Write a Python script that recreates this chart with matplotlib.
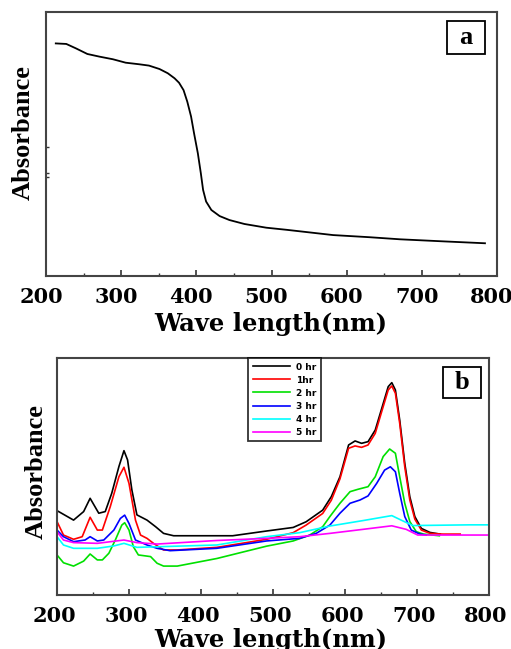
import matplotlib
matplotlib.use("Agg")
import matplotlib.pyplot as plt
from matplotlib.patches import Rectangle
from matplotlib.ticker import MultipleLocator
from matplotlib.transforms import ScaledTranslation

# ---- panel a data ----
wl_a = [213, 227, 240, 255, 271, 289, 306, 324, 337, 351, 362, 371, 377, 383, 388, 393, 397,
        402, 406, 409, 413, 420, 431, 444, 464, 493, 520, 582, 630, 671, 730, 784]
abs_a = [0.881, 0.879, 0.862, 0.841, 0.831, 0.821, 0.808, 0.802, 0.797, 0.784, 0.768, 0.749,
         0.732, 0.704, 0.66, 0.604, 0.54, 0.465, 0.389, 0.326, 0.282, 0.25, 0.227, 0.212,
         0.197, 0.183, 0.175, 0.155, 0.147, 0.139, 0.131, 0.124]

# ---- panel b data ----
wl_0 = [200, 223, 237, 246, 258, 267, 276, 286, 293, 298, 304, 311, 325, 337, 348, 362, 422,
        444, 491, 528, 546, 569, 581, 593, 605, 614, 623, 632, 642, 651, 660, 665, 670, 676,
        683, 690, 697, 706, 718, 732]
abs_0 = [0.356, 0.316, 0.352, 0.408, 0.345, 0.352, 0.429, 0.542, 0.609, 0.57, 0.443, 0.338,
         0.316, 0.288, 0.26, 0.25, 0.25, 0.25, 0.27, 0.285, 0.309, 0.358, 0.415, 0.499, 0.633,
         0.65, 0.64, 0.647, 0.696, 0.787, 0.879, 0.896, 0.865, 0.738, 0.556, 0.415, 0.331,
         0.281, 0.264, 0.257]

wl_1 = [200, 209, 223, 235, 246, 256, 263, 274, 286, 293, 300, 309, 316, 325, 334, 348, 367,
        422, 491, 528, 546, 569, 581, 593, 605, 614, 623, 632, 642, 651, 660, 665, 670, 676,
        683, 690, 697, 706, 718, 736, 760]
abs_1 = [0.31, 0.253, 0.235, 0.246, 0.328, 0.274, 0.274, 0.373, 0.499, 0.539, 0.471, 0.316,
         0.253, 0.239, 0.218, 0.19, 0.19, 0.201, 0.235, 0.263, 0.295, 0.344, 0.40, 0.49,
         0.619, 0.629, 0.623, 0.633, 0.682, 0.774, 0.865, 0.882, 0.851, 0.724, 0.541, 0.401,
         0.32, 0.274, 0.26, 0.257, 0.257]

wl_2 = [200, 209, 223, 237, 246, 256, 263, 272, 281, 290, 294, 300, 306, 313, 330, 339, 348,
        367, 422, 491, 528, 551, 569, 579, 593, 607, 618, 632, 642, 653, 662, 670, 676, 683,
        690, 699, 709, 731]
abs_2 = [0.169, 0.136, 0.122, 0.143, 0.173, 0.148, 0.148, 0.176, 0.232, 0.295, 0.305, 0.274,
         0.204, 0.169, 0.162, 0.134, 0.122, 0.122, 0.154, 0.206, 0.228, 0.253, 0.288, 0.331,
         0.387, 0.436, 0.446, 0.457, 0.499, 0.584, 0.616, 0.598, 0.499, 0.387, 0.31, 0.267,
         0.257, 0.25]

wl_3 = [200, 209, 223, 239, 246, 256, 265, 279, 288, 294, 300, 309, 325, 339, 357, 422, 491,
        537, 560, 579, 593, 607, 621, 632, 644, 655, 663, 670, 676, 683, 692, 704, 713]
abs_3 = [0.274, 0.246, 0.225, 0.232, 0.246, 0.228, 0.232, 0.274, 0.323, 0.337, 0.302, 0.232,
         0.211, 0.197, 0.187, 0.197, 0.228, 0.239, 0.26, 0.295, 0.345, 0.387, 0.401, 0.418,
         0.471, 0.527, 0.541, 0.52, 0.429, 0.331, 0.274, 0.257, 0.253]

wl_4 = [200, 209, 223, 256, 279, 293, 311, 422, 491, 537, 579, 625, 665, 678, 694, 773, 800]
abs_4 = [0.246, 0.211, 0.197, 0.197, 0.207, 0.218, 0.201, 0.211, 0.246, 0.263, 0.291, 0.314,
         0.335, 0.316, 0.293, 0.296, 0.296]

wl_5 = [200, 209, 223, 256, 293, 311, 339, 422, 491, 537, 579, 625, 665, 685, 701, 773, 800]
abs_5 = [0.267, 0.232, 0.221, 0.218, 0.232, 0.221, 0.215, 0.23, 0.239, 0.246, 0.26, 0.277,
         0.292, 0.277, 0.253, 0.253, 0.253]

labels_b = ["0 hr", "1hr", "2 hr", "3 hr", "4 hr", "5 hr"]
colors_b = ["black", "red", "#00e000", "blue", "cyan", "magenta"]
xticks = [200, 300, 400, 500, 600, 700, 800]

TICKFONT = dict(family="DejaVu Serif", weight="bold", size=15)
LABFONT = dict(family="DejaVu Serif", weight="bold", size=17.5)
YFONT = dict(family="Liberation Serif", weight="bold", size=19)

fig = plt.figure(figsize=(5.11, 6.49), dpi=100)
axa = fig.add_axes([46/511, 1-276/649, 451/511, 264/649])
axb = fig.add_axes([57/511, 1-595/649, 432/511, 237/649])

def style(ax, shift_px):
    ax.set_xlim(200, 800)
    ax.set_ylim(0, 1)
    ax.set_xticks(xticks)
    ax.xaxis.set_minor_locator(MultipleLocator(50))
    ax.set_xticklabels([str(t) for t in xticks], fontdict=TICKFONT)
    ax.tick_params(axis="x", which="major", direction="in", length=4, width=1.2,
                   color="#333333", pad=8, top=False)
    ax.tick_params(axis="x", which="minor", direction="in", length=2, width=1.0,
                   color="#333333", top=False)
    off = ScaledTranslation(shift_px / 100.0, 0, fig.dpi_scale_trans)
    for lbl in ax.get_xticklabels():
        lbl.set_transform(lbl.get_transform() + off)
    for s in ax.spines.values():
        s.set_color("#444444")
        s.set_linewidth(1.5)

# panel a
axa.plot(wl_a, abs_a, color="black", lw=1.3)
style(axa, -5)
axa.set_yticks([0.375, 0.39, 0.489])
axa.set_yticklabels([])
axa.tick_params(axis="y", direction="in", length=2, width=1.0, color="#333333")
axa.add_patch(Rectangle((0.889, 0.841), 0.084, 0.125, transform=axa.transAxes,
                        fill=False, edgecolor="black", lw=1.3))
axa.text(0.931, 0.9035, "a", transform=axa.transAxes, ha="center", va="center",
         fontsize=19, fontweight="bold", family="Liberation Serif")
fig.text(271/511, 1-324/649, "Wave length(nm)", ha="center", va="center", **LABFONT)
fig.text(23/511, 1-133/649, "Absorbance", ha="center", va="center", rotation=90, **YFONT)

# panel b
series = [(wl_0, abs_0), (wl_1, abs_1), (wl_2, abs_2), (wl_3, abs_3), (wl_4, abs_4), (wl_5, abs_5)]
for (x, y), lab, c in zip(series, labels_b, colors_b):
    axb.plot(x, y, color=c, lw=1.2, label=lab)
style(axb, -3)
axb.set_yticks([])
leg = axb.legend(loc="upper left", bbox_to_anchor=((248-57)/432, 1.0), frameon=True,
                 fancybox=False, prop=dict(family="DejaVu Sans", size=6.5, weight="bold"),
                 handlelength=4.2, labelspacing=0.45, borderpad=0.5, handletextpad=0.6,
                 borderaxespad=0)
leg.get_frame().set_edgecolor("black")
leg.get_frame().set_linewidth(1.3)
axb.add_patch(Rectangle((0.894, 0.831), 0.087, 0.131, transform=axb.transAxes,
                        fill=False, edgecolor="black", lw=1.3))
axb.text(0.9375, 0.8965, "b", transform=axb.transAxes, ha="center", va="center",
         fontsize=19, fontweight="bold", family="Liberation Serif")
fig.text(271/511, 1-640/649, "Wave length(nm)", ha="center", va="center", **LABFONT)
fig.text(36/511, 1-472/649, "Absorbance", ha="center", va="center", rotation=90, **YFONT)

fig.savefig("out.png", dpi=100)
